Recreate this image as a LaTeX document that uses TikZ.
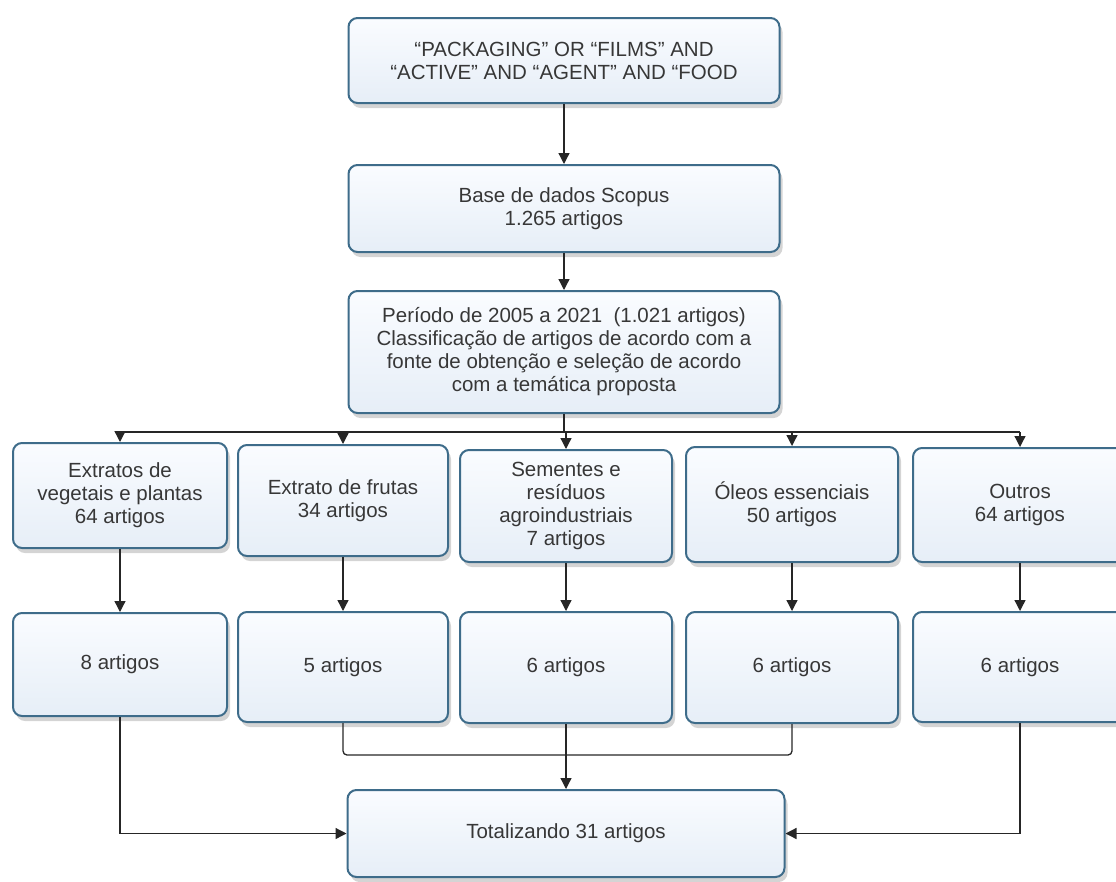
\documentclass[tikz,border=0pt]{standalone}
\usepackage{fontspec}
\setmainfont{Liberation Sans}
\usetikzlibrary{arrows.meta,shadows}
\definecolor{boxline}{RGB}{62,108,138}
\definecolor{boxtop}{RGB}{250,252,255}
\definecolor{boxbot}{RGB}{230,238,247}
\definecolor{txt}{RGB}{55,55,55}
\begin{document}
\begin{tikzpicture}[
        x=1pt, y=-1pt,
        boxn/.style={draw=boxline, line width=2pt, rounded corners=9pt,
            top color=boxtop, bottom color=boxbot, text=txt, align=center,
            inner sep=0pt, font=\fontsize{20.5}{23}\selectfont,
            drop shadow={shadow xshift=3pt, shadow yshift=-5pt, fill=black!60, opacity=0.28}},
        boxsize/.style 2 args={minimum width=#1, minimum height=#2},
        link/.style={draw=black!85, line width=1.3pt},
        arr/.style={link, -{Triangle[width=11pt,length=11pt]}},
    ]
    \useasboundingbox (0,0) rectangle (1116,881);
    \node[boxn, boxsize={431pt}{85pt}](query) at (564,60.5)
        {“PACKAGING” OR “FILMS” AND\\“ACTIVE” AND “AGENT” AND “FOOD};
    \node[boxn, boxsize={431pt}{87pt}](scopus) at (564,208.5)
        {Base de dados Scopus\\1.265 artigos};
    \node[boxn, boxsize={431pt}{122pt}](periodo) at (564,352)
        {Período de 2005 a 2021\ \ (1.021 artigos)\\Classificação de artigos de acordo com a\\fonte de obtenção e seleção de acordo\\com a temática proposta};

    \node[boxn, boxsize={214pt}{105pt}](veg) at (120,495.5)
        {Extratos de\\vegetais e plantas\\64 artigos};
    \node[boxn, boxsize={210pt}{111pt}](frutas) at (343,500.5)
        {Extrato de frutas\\34 artigos};
    \node[boxn, boxsize={212pt}{112pt}](sementes) at (566,506)
        {Sementes e\\resíduos\\agroindustriais\\7 artigos};
    \node[boxn, boxsize={212pt}{115pt}](oleos) at (792,504.5)
        {Óleos essenciais\\50 artigos};
    \node[boxn, boxsize={214pt}{114pt}](outros) at (1020,505)
        {Outros\\64 artigos};

    \node[boxn, boxsize={214pt}{103pt}](veg2) at (120,664.5) {8 artigos};
    \node[boxn, boxsize={210pt}{110pt}](frutas2) at (343,667) {5 artigos};
    \node[boxn, boxsize={212pt}{111pt}](sementes2) at (566,667.5) {6 artigos};
    \node[boxn, boxsize={212pt}{111pt}](oleos2) at (792,667.5) {6 artigos};
    \node[boxn, boxsize={214pt}{110pt}](outros2) at (1020,667) {6 artigos};

    \node[boxn, boxsize={437pt}{87pt}](total) at (566,833.5) {Totalizando 31 artigos};

    \coordinate (bus) at (564,432);
    \coordinate (join) at (566,755);

    \draw[arr] (query) -- (scopus);
    \draw[arr] (scopus) -- (periodo);
    \draw[link] (periodo.south) -- (bus);
    \draw[link] (bus -| veg.north) -- (bus -| outros.north);
    \foreach \n in {veg,frutas,sementes,oleos,outros}{
        \draw[arr] (bus -| \n.north) -- (\n.north);
        \draw[arr] (\n) -- (\n2);
    }
    \draw[link, rounded corners=4pt] (frutas2.south) |- (join) -| (oleos2.south);
    \draw[arr] (sementes2.south) -- (total.north);
    \draw[arr] (veg2.south) |- (total.west);
    \draw[arr] (outros2.south) |- (total.east);
\end{tikzpicture}
\end{document}
